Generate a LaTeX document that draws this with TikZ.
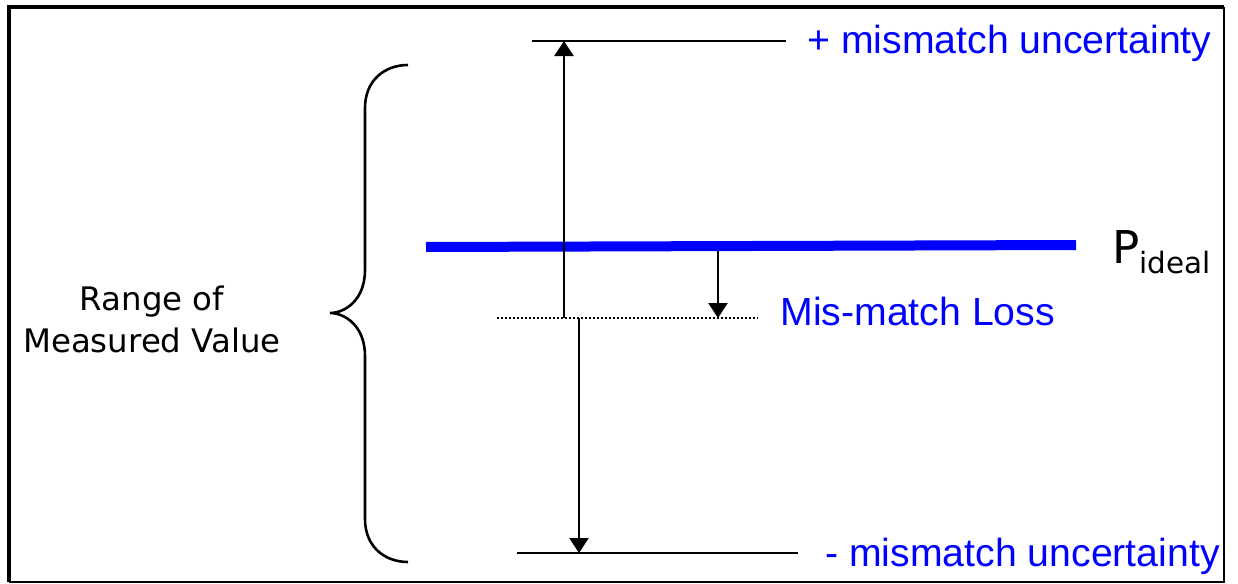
\documentclass[tikz,border=0pt]{standalone}
\usepackage{fontspec}
\setmainfont{DejaVu Sans}
\newfontfamily\labelfont{Liberation Sans}
\usetikzlibrary{arrows.meta,positioning}

\begin{document}
\begin{tikzpicture}[
    x=0.5pt, y=-0.5pt,
    level/.style={line width=1.3pt},
    measure/.style={-{Triangle[width=9.5pt,length=7.5pt]}, line width=1.2pt},
    bluelabel/.style={text=blue, font=\labelfont\fontsize{19.6}{23}\selectfont, inner sep=0pt, anchor=base west},
    idealline/.style={blue, line width=5pt}
]
    \useasboundingbox (0,0) rectangle (1238,584);

    % Frame
    \draw[line width=2pt] (9,582) -- (9,7) -- (1224,7);
    \draw[line width=1.2pt] (1224,7) -- (1224,582) -- (9,582);

    % Levels
    \coordinate (upperL) at (532,41);
    \coordinate (upperR) at (786,41);
    \coordinate (lowerL) at (517,553);
    \coordinate (lowerR) at (798,553);
    \coordinate (lossL) at (497,318);
    \coordinate (lossR) at (758,318);
    \coordinate (idealL) at (426,247);
    \coordinate (idealR) at (1076,245);

    \draw[idealline] (idealL) -- (idealR);
    \draw[level] (upperL) -- (upperR);
    \draw[level] (lowerL) -- (lowerR);
    \draw[line width=0.7pt, dash pattern=on 1pt off 1pt] (lossL) -- (lossR);

    % Arrows
    \coordinate (upStart) at (564,318);
    \coordinate (upEnd) at (564,41);
    \coordinate (downStart) at (579,318);
    \coordinate (downEnd) at (579,553);
    \coordinate (lossStart) at (718,251);
    \coordinate (lossEnd) at (718,318);

    \draw[measure] (upStart) -- (upEnd);
    \draw[measure] (downStart) -- (downEnd);
    \draw[measure] (lossStart) -- (lossEnd);

    % Brace
    \coordinate (braceTop) at (408,65);
    \coordinate (braceTip) at (330,313);
    \coordinate (braceBot) at (408,562);
    \draw[line width=1.3pt] (braceTop) .. controls (385,65) and (365,80) .. (365,108)
        -- (365,270) .. controls (365,300) and (345,313) .. (braceTip)
        .. controls (345,313) and (365,326) .. (365,356)
        -- (365,519) .. controls (365,547) and (385,562) .. (braceBot);

    % Labels
    \node[bluelabel] (plus) at (807,53) {+ mismatch uncertainty};
    \node[bluelabel] (loss) at (780,325) {Mis-match Loss};
    \node[bluelabel] (minus) at (825,566) {- mismatch uncertainty};
    \node[anchor=base west, inner sep=0pt, font=\fontsize{22.6}{26}\selectfont] (ideal) at (1112,263) {P\raisebox{-5pt}{\fontsize{14.7}{17}\selectfont ideal}};
    \node[align=center, inner sep=0pt, font=\fontsize{16.2}{21}\selectfont] (range) at (152,319) {Range of\\Measured Value};

\end{tikzpicture}
\end{document}
